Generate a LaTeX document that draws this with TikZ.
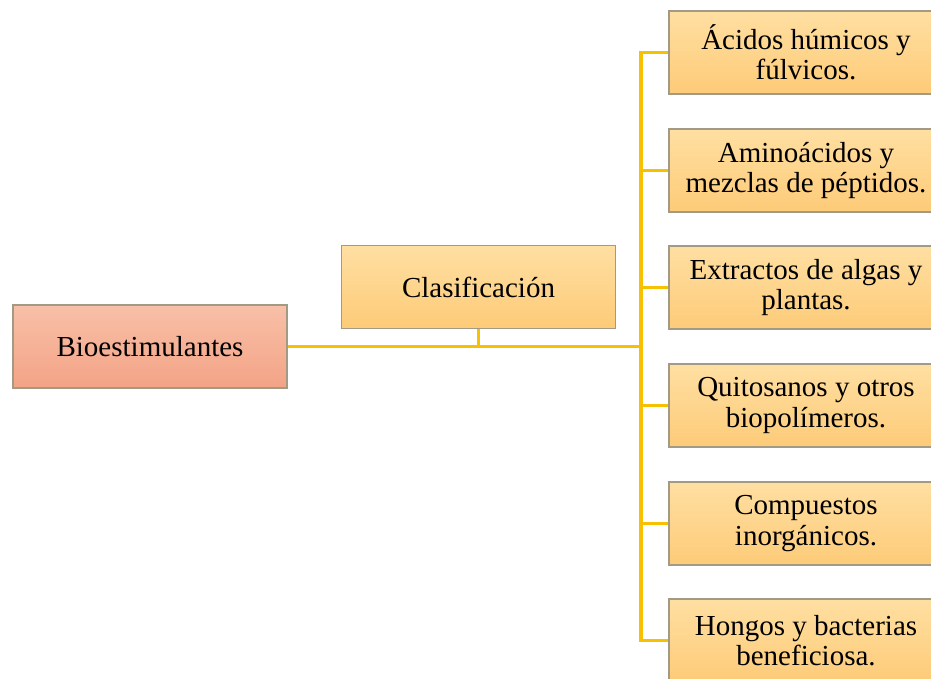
\documentclass[tikz,border=0pt]{standalone}
\usepackage{fontspec}
\setmainfont{Liberation Serif}
\definecolor{linegold}{HTML}{F7C000}
\definecolor{salmontop}{HTML}{F8C0A8}
\definecolor{salmonbot}{HTML}{F3A386}
\definecolor{goldtop}{HTML}{FFDFA2}
\definecolor{goldbot}{HTML}{FDCB78}
\definecolor{boxedge}{HTML}{A39A86}
\begin{document}
\begin{tikzpicture}[x=1pt,y=-1pt,
  box/.style={draw=boxedge,line width=1.2pt,minimum width=274pt,minimum height=83pt,
    inner sep=0pt,align=center,font=\fontsize{29}{30.5}\selectfont,text=black},
  rootbox/.style={box,top color=salmontop,bottom color=salmonbot},
  catbox/.style={box,top color=goldtop,bottom color=goldbot},
  link/.style={draw=linegold,line width=3.2pt}]
\useasboundingbox (0,0) rectangle (931,678);
\clip (0,0) rectangle (931,678);
\fill[white] (0,0) rectangle (931,678);
\node[rootbox] (bio) at (150,346.5) {Bioestimulantes};
\node[catbox] (cla) at (478.5,287) {Clasificación};
\node[catbox] (r1) at (806,52.5) {Ácidos húmicos y\\fúlvicos.};
\node[catbox] (r2) at (806,170.5) {Aminoácidos y\\mezclas de péptidos.};
\node[catbox] (r3) at (806,287.5) {Extractos de algas y\\plantas.};
\node[catbox] (r4) at (806,405.5) {Quitosanos y otros\\biopolímeros.};
\node[catbox] (r5) at (806,523.5) {Compuestos\\inorgánicos.};
\node[catbox] (r6) at (806,640.5) {Hongos y bacterias\\beneficiosa.};
\coordinate (J) at (641,346.5);
\coordinate (T) at (641,52.5);
\coordinate (B) at (641,640.5);
\draw[link] (bio.east) -- (J);
\draw[link] (cla.south) -- (cla.south |- J);
\draw[link] (r1.west) -- (T) -- (B) -- (r6.west);
\foreach \n in {r2,r3,r4,r5}{
  \draw[link] (T |- \n.west) -- (\n.west);
}
\end{tikzpicture}
\end{document}
